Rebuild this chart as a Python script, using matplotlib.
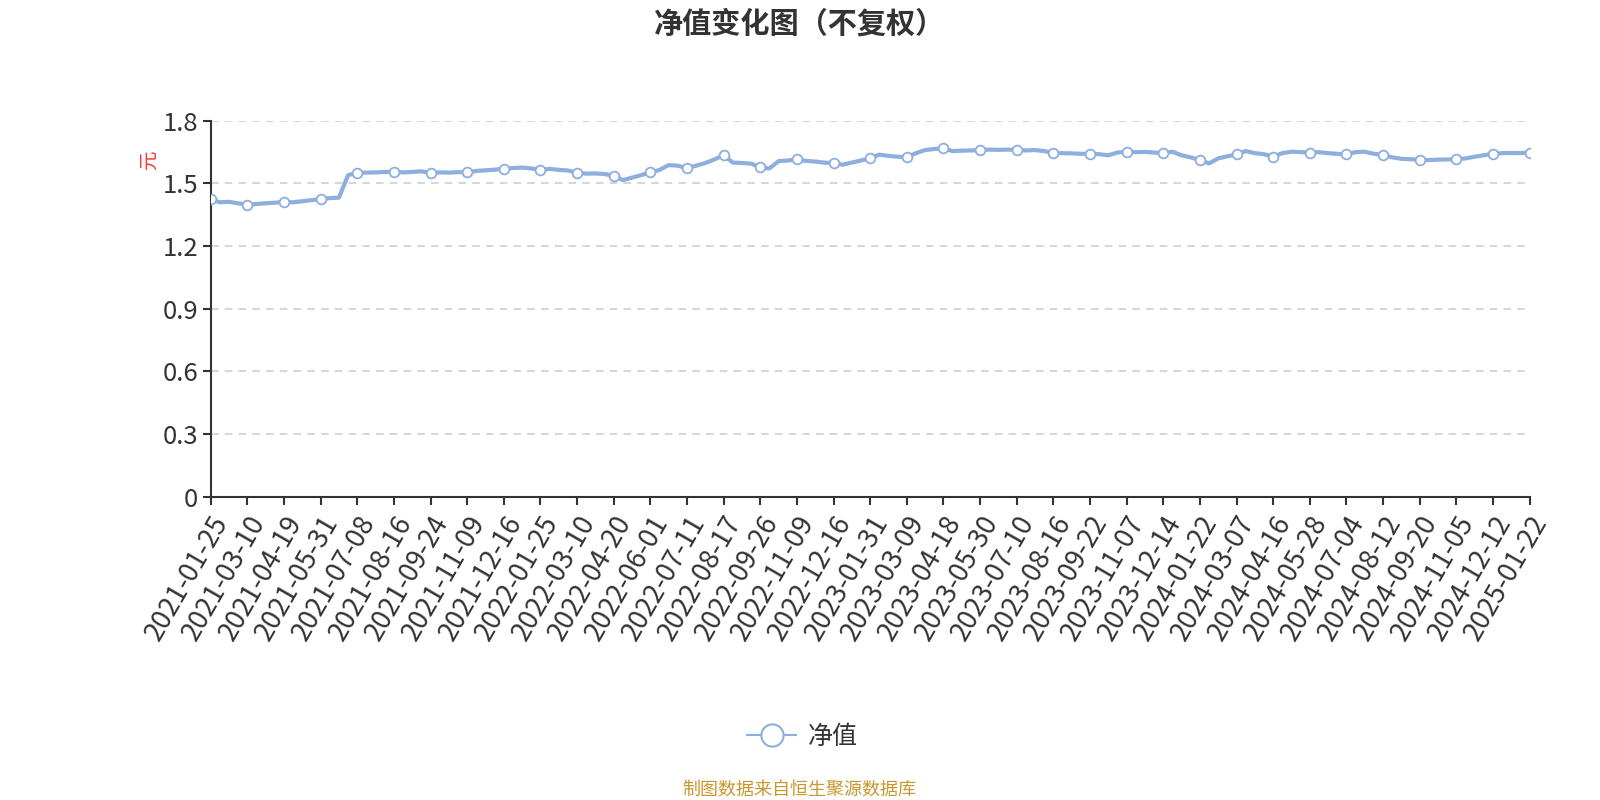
import numpy as np
import matplotlib
matplotlib.use("Agg")
import matplotlib.pyplot as plt
from matplotlib.lines import Line2D

plt.rcParams['font.family'] = ['Noto Sans CJK SC', 'DejaVu Sans']

# =========================
# DATA
# =========================
TITLE = "净值变化图（不复权）"
SERIES_NAME = "净值"
Y_UNIT = "元"
SOURCE = "制图数据来自恒生聚源数据库"

tick_dates = [
    "2021-01-25", "2021-03-10", "2021-04-19", "2021-05-31", "2021-07-08",
    "2021-08-16", "2021-09-24", "2021-11-09", "2021-12-16", "2022-01-25",
    "2022-03-10", "2022-04-20", "2022-06-01", "2022-07-11", "2022-08-17",
    "2022-09-26", "2022-11-09", "2022-12-16", "2023-01-31", "2023-03-09",
    "2023-04-18", "2023-05-30", "2023-07-10", "2023-08-16", "2023-09-22",
    "2023-11-07", "2023-12-14", "2024-01-22", "2024-03-07", "2024-04-16",
    "2024-05-28", "2024-07-04", "2024-08-12", "2024-09-20", "2024-11-05",
    "2024-12-12", "2025-01-22",
]

# net value, 4 samples per tick interval (first of each group is the tick date)
nav = [
    1.425, 1.410, 1.412, 1.405,
    1.398, 1.402, 1.405, 1.408,
    1.411, 1.410, 1.415, 1.420,
    1.425, 1.430, 1.432, 1.540,
    1.551, 1.552, 1.553, 1.555,
    1.556, 1.553, 1.555, 1.558,
    1.551, 1.553, 1.552, 1.554,
    1.554, 1.560, 1.563, 1.566,
    1.570, 1.574, 1.576, 1.572,
    1.565, 1.570, 1.565, 1.562,
    1.551, 1.547, 1.548, 1.545,
    1.538, 1.516, 1.528, 1.540,
    1.553, 1.565, 1.588, 1.585,
    1.573, 1.585, 1.598, 1.615,
    1.636, 1.600, 1.598, 1.595,
    1.577, 1.572, 1.607, 1.610,
    1.615, 1.608, 1.605, 1.600,
    1.597, 1.590, 1.600, 1.610,
    1.621, 1.638, 1.632, 1.628,
    1.626, 1.645, 1.660, 1.665,
    1.668, 1.655, 1.657, 1.658,
    1.660, 1.662, 1.661, 1.662,
    1.661, 1.658, 1.660, 1.655,
    1.647, 1.645, 1.644, 1.642,
    1.642, 1.640, 1.635, 1.648,
    1.652, 1.650, 1.651, 1.648,
    1.645, 1.652, 1.635, 1.625,
    1.612, 1.596, 1.620, 1.630,
    1.639, 1.655, 1.645, 1.640,
    1.629, 1.645, 1.652, 1.650,
    1.648, 1.650, 1.645, 1.642,
    1.639, 1.650, 1.652, 1.642,
    1.637, 1.625, 1.618, 1.616,
    1.613, 1.612, 1.614, 1.615,
    1.616, 1.620, 1.628, 1.635,
    1.642, 1.645, 1.646, 1.645,
    1.648,
]

y_ticks = [0, 0.3, 0.6, 0.9, 1.2, 1.5, 1.8]

# =========================
# STYLE
# =========================
LINE_COLOR = "#8eaede"
AXIS_COLOR = "#333333"
GRID_COLOR = "#cccccc"
STEP = 4


def main():
    fig = plt.figure(figsize=(16, 8), dpi=100)
    ax = fig.add_axes([0.1317, 0.379, 0.8243, 0.470])

    x = np.arange(len(nav))
    ax.plot(x, nav, color=LINE_COLOR, linewidth=3.0, zorder=3,
            marker='o', markevery=STEP, markersize=7,
            markerfacecolor='white', markeredgecolor=LINE_COLOR,
            markeredgewidth=1.3, solid_joinstyle='round')

    ax.set_xlim(0, len(nav) - 1)
    ax.set_ylim(0, 1.8)

    ax.set_yticks(y_ticks)
    ax.set_yticklabels([f"{v:g}" for v in y_ticks])
    ax.set_xticks(np.arange(0, len(nav), STEP))
    ax.set_xticklabels(tick_dates, rotation=60, ha='right',
                       rotation_mode='anchor')

    ax.tick_params(axis='both', colors=AXIS_COLOR, labelsize=18.5,
                   length=6, width=1.5, pad=4)
    ax.tick_params(axis='x', labelsize=19.5)
    ax.tick_params(axis='y', pad=3)

    for v in y_ticks[1:]:
        ax.axhline(v, color=GRID_COLOR, linestyle=(0, (5, 4)),
                   linewidth=1.1, zorder=1)

    for side in ['top', 'right']:
        ax.spines[side].set_visible(False)
    for side in ['left', 'bottom']:
        ax.spines[side].set_color(AXIS_COLOR)
        ax.spines[side].set_linewidth(1.5)

    fig.text(0.0935, 0.80, Y_UNIT, color='#ff3333', fontsize=14,
             rotation=90, ha='center', va='center')

    fig.text(0.5, 0.971, TITLE, fontsize=21, fontweight='bold',
             color=AXIS_COLOR, ha='center', va='center')

    handle = Line2D([0], [0], color=LINE_COLOR, linewidth=1.5, marker='o',
                    markersize=16, markerfacecolor='white',
                    markeredgecolor=LINE_COLOR, markeredgewidth=1.5)
    fig.legend([handle], [SERIES_NAME], loc='center',
               bbox_to_anchor=(0.5015, 0.079), frameon=False, fontsize=18,
               handlelength=1.95, handletextpad=0.45, labelcolor=AXIS_COLOR)

    fig.text(0.4995, 0.0125, SOURCE, fontsize=13, color='#c9962d',
             ha='center', va='center')

    fig.savefig("out.png", dpi=100)


if __name__ == "__main__":
    main()
